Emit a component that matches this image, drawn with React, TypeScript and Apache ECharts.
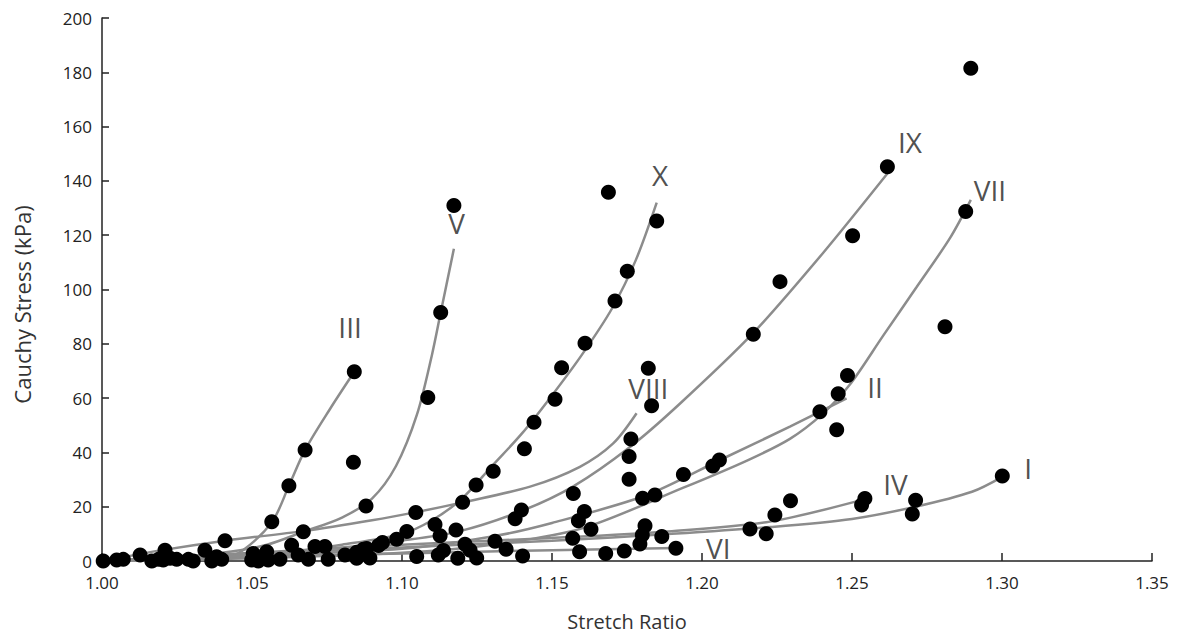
import React, { useEffect, useRef } from "react";
import * as echarts from "echarts";

// Observed data points (stretch ratio, Cauchy stress kPa)
const pointsLow: number[][] = [
  [1.0004, 0], [1.0049, 0.4], [1.0071, 0.6], [1.0127, 2.2], [1.0166, 0], [1.0188, 0.6],
  [1.0204, 0.4], [1.021, 4], [1.0227, 1.0], [1.0249, 0.6], [1.0288, 0.6], [1.0304, 0],
  [1.0343, 4], [1.0366, 0], [1.0382, 1.6], [1.0399, 0.6], [1.041, 7.5], [1.0499, 0.4],
  [1.0504, 2.8], [1.0521, 0], [1.0549, 3.4], [1.0554, 0.4], [1.0566, 14.5], [1.0593, 0.6],
  [1.0623, 27.7], [1.0632, 5.8], [1.0654, 2.2], [1.0671, 10.8], [1.0677, 40.9], [1.0688, 0.6],
  [1.071, 5.3], [1.0743, 5.3], [1.0754, 0.6],
];
const pointsMid: number[][] = [
  [1.081, 2.2], [1.0838, 36.4], [1.0841, 69.7], [1.0849, 1.0], [1.0849, 3.2], [1.0871, 4.3],
  [1.088, 20.3], [1.0882, 4.6], [1.0893, 1.1], [1.0922, 5.7], [1.0935, 6.8], [1.0982, 8.0],
  [1.1016, 10.9], [1.1046, 17.9], [1.1049, 1.7], [1.1086, 60.2], [1.111, 13.4], [1.1121, 2.2],
  [1.1127, 9.3], [1.1129, 91.5], [1.1138, 3.9], [1.1173, 130.9], [1.118, 11.4], [1.1186, 1.0],
  [1.1202, 21.6],
];
const pointsUpper: number[][] = [
  [1.121, 6.2], [1.1227, 4.0], [1.1247, 28.0], [1.1249, 1.1], [1.1304, 33.1], [1.131, 7.3],
  [1.1347, 4.3], [1.1377, 15.6], [1.1398, 18.8], [1.1402, 1.8], [1.1408, 41.3], [1.144, 51.1],
  [1.151, 59.6], [1.1532, 71.2], [1.1569, 8.4], [1.1571, 24.9], [1.1588, 14.8], [1.1592, 3.4],
  [1.1608, 18.2], [1.161, 80.2], [1.163, 11.7], [1.1679, 2.8], [1.1688, 135.8], [1.171, 95.8],
  [1.1741, 3.7], [1.1751, 106.7], [1.1757, 30.1], [1.1757, 38.5], [1.1763, 44.9], [1.1793, 6.3],
  [1.1801, 9.6], [1.1802, 23.1], [1.181, 13.0], [1.1821, 71.0], [1.1832, 57.2], [1.1843, 24.3],
  [1.1849, 125.2], [1.1866, 9.0], [1.1913, 4.7], [1.1938, 31.9],
];
const pointsHigh: number[][] = [
  [1.2036, 35.0], [1.2058, 37.2], [1.216, 11.8], [1.2171, 83.5], [1.2214, 10.0], [1.2243, 16.9],
  [1.226, 102.9], [1.2295, 22.2], [1.2393, 55.0], [1.2449, 48.3], [1.2454, 61.6], [1.2485, 68.3],
  [1.2502, 119.8], [1.2532, 20.6], [1.2543, 23.0], [1.2618, 145.2], [1.2701, 17.3], [1.2712, 22.4],
  [1.281, 86.3], [1.2879, 128.7], [1.2896, 181.5], [1.3001, 31.3],
];

// Fitted curves
const curveI = [[1.0, 0], [1.05, 2.5], [1.1, 5], [1.15, 7.5], [1.19, 10], [1.2227, 12.5], [1.25, 15.5], [1.2712, 20], [1.29, 25.5], [1.3001, 31]];
const curveII = [[1.0, 0], [1.05, 2], [1.1, 4.5], [1.13, 9], [1.15, 14], [1.1816, 24.3], [1.206, 37.2], [1.2293, 49.5], [1.2482, 59.9]];
const curveIII = [[1.0, 0], [1.03, 0.5], [1.04, 1], [1.047, 4], [1.0568, 14.6], [1.0623, 27.7], [1.0677, 40.9], [1.076, 56], [1.0841, 69.7]];
const curveIV = [[1.0, 0], [1.05, 3], [1.1, 6], [1.15, 8.5], [1.19, 11], [1.2227, 14.5], [1.2543, 22.8]];
const curveV = [[1.0, 0], [1.02, 1], [1.04, 3], [1.055, 6], [1.067, 10.7], [1.08, 16], [1.09, 23], [1.098, 35], [1.105, 54], [1.11, 76], [1.1129, 91.5], [1.1173, 115]];
const curveVI = [[1.0, 0], [1.05, 1.5], [1.1, 2.8], [1.15, 4], [1.1913, 4.8]];
const curveVII = [[1.0, 0], [1.05, 1], [1.1, 3], [1.13, 6], [1.16, 12], [1.1938, 27], [1.215, 37], [1.2293, 45], [1.24, 54], [1.2493, 65], [1.2604, 83], [1.2716, 101], [1.2827, 119], [1.2896, 133]];
const curveVIII = [[1.0, 0], [1.02, 4], [1.041, 7.5], [1.067, 11], [1.09, 15], [1.1047, 18], [1.1202, 21.6], [1.1427, 27.4], [1.1593, 34.7], [1.1704, 43.3], [1.1782, 54.4]];
const curveIX = [[1.0, 0], [1.04, 2], [1.08, 5], [1.1, 7.5], [1.1193, 11], [1.14, 18.5], [1.1571, 27.5], [1.176, 42], [1.1927, 58], [1.2171, 84], [1.24, 113], [1.262, 143]];
const curveX = [[1.0, 0], [1.03, 1], [1.06, 3], [1.08, 6], [1.1, 10], [1.11, 15], [1.12, 23], [1.13, 35], [1.14, 47], [1.15, 61], [1.16, 76], [1.17, 93], [1.178, 111], [1.1849, 132]];

const curves = [curveI, curveII, curveIII, curveIV, curveV, curveVI, curveVII, curveVIII, curveIX, curveX];
const curveNames = ["I", "II", "III", "IV", "V", "VI", "VII", "VIII", "IX", "X"];
const labelStretch = [1.3087, 1.2577, 1.0827, 1.2645, 1.1182, 1.2054, 1.296, 1.1821, 1.2693, 1.186];
const labelStress = [34.3, 64.2, 86.3, 28.3, 124.4, 4.7, 136.6, 63.6, 154.4, 142.2];

const FONT = "'Open Sans', 'DejaVu Sans', sans-serif";

export default function App() {
  const ref = useRef<HTMLDivElement>(null);
  useEffect(() => {
    if (!ref.current) return;
    const chart = echarts.init(ref.current, null, { renderer: "svg" });
    const lineSeries = curves.map((c, i) => ({
      type: "line",
      name: curveNames[i],
      data: c,
      smooth: 0.3,
      showSymbol: false,
      symbol: "none",
      lineStyle: { color: "#8c8c8c", width: 2.5 },
      z: 2,
      silent: true,
    }));
    chart.setOption({
      animation: false,
      grid: { left: 102, right: 29, top: 18, bottom: 78, containLabel: false },
      xAxis: {
        type: "value",
        min: 1.0,
        max: 1.35,
        interval: 0.05,
        name: "Stretch Ratio",
        nameLocation: "middle",
        nameGap: 50,
        nameTextStyle: { fontFamily: FONT, fontSize: 20, color: "#333" },
        axisLine: { show: true, lineStyle: { color: "#222", width: 1.5 } },
        axisTick: { show: true, inside: true, length: 8, lineStyle: { color: "#222", width: 1.5 } },
        axisLabel: {
          fontFamily: FONT,
          fontSize: 17,
          lineHeight: 18,
          color: "#222",
          margin: 12,
          formatter: (v: number) => v.toFixed(2),
        },
        splitLine: { show: false },
      },
      yAxis: {
        type: "value",
        min: 0,
        max: 200,
        interval: 20,
        name: "Cauchy Stress (kPa)",
        nameLocation: "middle",
        nameGap: 69,
        nameRotate: 90,
        nameTextStyle: { fontFamily: FONT, fontSize: 22, color: "#333", padding: [0, 30, 0, 0] },
        axisLine: { show: true, lineStyle: { color: "#222", width: 1.5 } },
        axisTick: { show: true, inside: true, length: 7, lineStyle: { color: "#222", width: 1.5 } },
        axisLabel: { fontFamily: FONT, fontSize: 17, lineHeight: 17, color: "#222", margin: 10 },
        splitLine: { show: false },
      },
      series: [
        ...lineSeries,
        {
          type: "scatter",
          name: "points",
          data: [...pointsLow, ...pointsMid, ...pointsUpper, ...pointsHigh],
          symbol: "circle",
          symbolSize: 15,
          itemStyle: { color: "#000", opacity: 1 },
          clip: false,
          z: 3,
        },
        {
          type: "scatter",
          name: "labels",
          data: curveNames.map((n, i) => ({ name: n, value: [labelStretch[i], labelStress[i]] })),
          symbolSize: 0,
          clip: false,
          z: 4,
          label: {
            show: true,
            position: "inside",
            formatter: (p: any) => p.name,
            fontFamily: FONT,
            fontSize: 28,
            color: "#222",
          },
        },
      ],
    });
    return () => chart.dispose();
  }, []);
  return (
    <div
      ref={ref}
      style={{ position: "fixed", left: 0, top: 0, width: 1181, height: 639, background: "#fff" }}
    />
  );
}
